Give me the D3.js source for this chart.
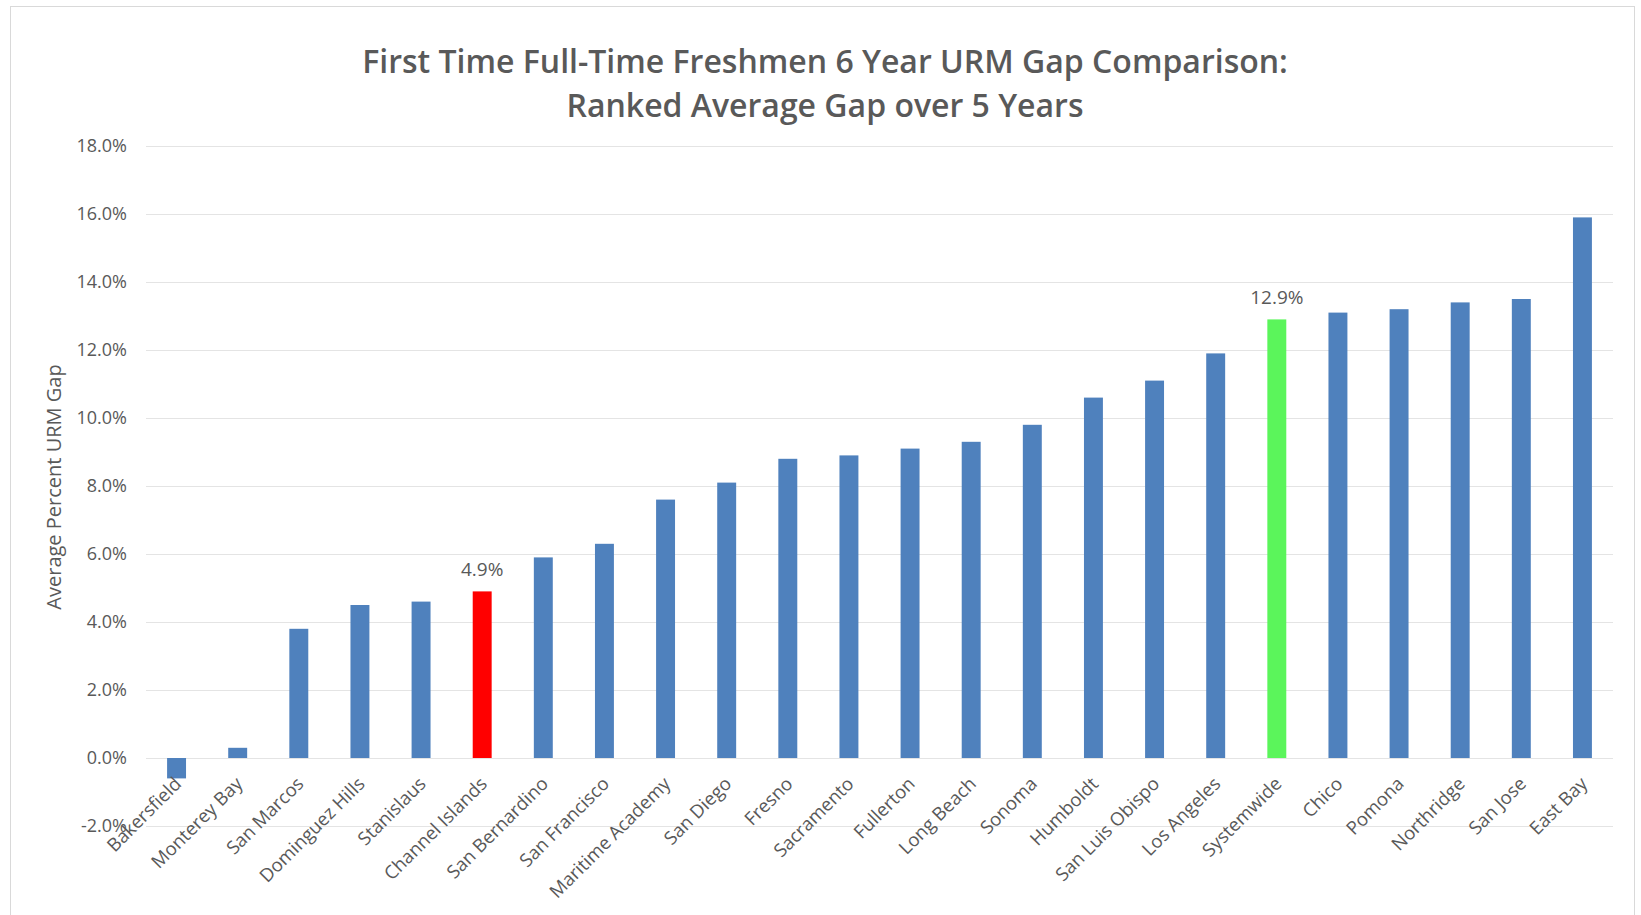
<!DOCTYPE html>
<html>
<head>
<meta charset="utf-8">
<script src="https://cdn.jsdelivr.net/npm/d3@7"></script>
<style>
  body { margin: 0; background: #fff; }
  #chart text { font-family: "Open Sans", Lato, sans-serif; fill: #595959; }
</style>
</head>
<body>
<div id="chart"></div>
<script>
// data
const campuses = ['Bakersfield', 'Monterey Bay', 'San Marcos', 'Dominguez Hills', 'Stanislaus',
  'Channel Islands', 'San Bernardino', 'San Francisco', 'Maritime Academy', 'San Diego', 'Fresno',
  'Sacramento', 'Fullerton', 'Long Beach', 'Sonoma', 'Humboldt', 'San Luis Obispo', 'Los Angeles',
  'Systemwide', 'Chico', 'Pomona', 'Northridge', 'San Jose', 'East Bay'];
const gaps = [-0.6, 0.3, 3.8, 4.5, 4.6, 4.9, 5.9, 6.3, 7.6, 8.1, 8.8, 8.9, 9.1, 9.3, 9.8, 10.6,
  11.1, 11.9, 12.9, 13.1, 13.2, 13.4, 13.5, 15.9];
const yTicks = [-2, 0, 2, 4, 6, 8, 10, 12, 14, 16, 18];
const highlights = { 'Channel Islands': '#ff0000', 'Systemwide': '#5bf55b' };
const labelled = ['Channel Islands', 'Systemwide'];
const titleLines = ['First Time Full-Time Freshmen 6 Year URM Gap Comparison:', 'Ranked Average Gap over 5 Years'];

// chart setup
const W = 1641, H = 915;
const margin = { top: 146, right: 28, bottom: 89, left: 146 };
const width = W - margin.left - margin.right;
const height = H - margin.top - margin.bottom;

const svg = d3.select('#chart').append('svg').attr('width', W).attr('height', H);

svg.append('rect')
  .attr('x', 10.5).attr('y', 6.5)
  .attr('width', 1624).attr('height', 920)
  .attr('fill', '#fff').attr('stroke', '#d9d9d9');

const x = d3.scaleBand().domain(campuses).range([0, width]).paddingInner(0.69).paddingOuter(0.345);
const y = d3.scaleLinear().domain([-2, 18]).range([height, 0]);

const g = svg.append('g').attr('transform', `translate(${margin.left},${margin.top})`);

// grid
g.append('g')
  .selectAll('line')
  .data(yTicks)
  .enter().append('line')
  .attr('x1', 0).attr('x2', width)
  .attr('y1', d => Math.round(y(d)) + 0.5).attr('y2', d => Math.round(y(d)) + 0.5)
  .attr('stroke', '#e4e4e4').attr('stroke-width', 1.2);

// y axis labels
const yAxis = g.append('g')
  .call(d3.axisLeft(y).tickValues(yTicks).tickFormat(d => d.toFixed(1) + '%').tickSize(0).tickPadding(19));
yAxis.select('.domain').remove();
yAxis.selectAll('text').style('font-size', '18px');

// bars
g.selectAll('rect.bar')
  .data(campuses)
  .enter().append('rect')
  .attr('class', 'bar')
  .attr('x', d => x(d))
  .attr('width', x.bandwidth())
  .attr('y', (d, i) => y(Math.max(0, gaps[i])))
  .attr('height', (d, i) => Math.abs(y(gaps[i]) - y(0)))
  .attr('fill', d => highlights[d] || '#4f81bd');

// value labels
g.selectAll('text.value')
  .data(labelled)
  .enter().append('text')
  .attr('class', 'value')
  .attr('x', d => x(d) + x.bandwidth() / 2)
  .attr('y', d => y(gaps[campuses.indexOf(d)]) - 15)
  .attr('text-anchor', 'middle')
  .style('font-size', '19px')
  .text(d => gaps[campuses.indexOf(d)].toFixed(1) + '%');

// x axis labels
g.selectAll('text.cat')
  .data(campuses)
  .enter().append('text')
  .attr('class', 'cat')
  .attr('transform', d => `translate(${x(d) + x.bandwidth() / 2 + 6},${y(0) + 27}) rotate(-45)`)
  .attr('text-anchor', 'end')
  .style('font-size', '18.5px')
  .text(d => d);

// y label
svg.append('text')
  .attr('transform', `translate(61,487) rotate(-90)`)
  .attr('text-anchor', 'middle')
  .style('font-size', '20px')
  .text('Average Percent URM Gap');

// title
svg.append('g').selectAll('text')
  .data(titleLines)
  .enter().append('text')
  .attr('x', 825)
  .attr('y', (d, i) => 73 + i * 44)
  .attr('text-anchor', 'middle')
  .style('font-size', '32px')
  .style('font-weight', 600)
  .text(d => d);
</script>
</body>
</html>
